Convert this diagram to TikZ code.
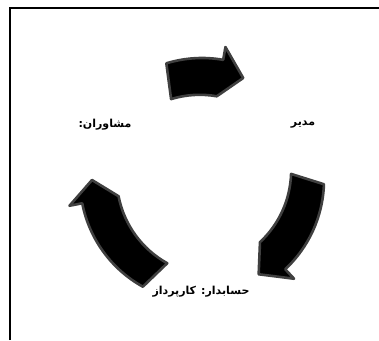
\documentclass[tikz,border=0pt]{standalone}
\usepackage{fontspec}
\newfontfamily\arabicfont[Script=Arabic]{DejaVu Sans}
\TeXXeTstate=1
\tikzset{
  arrowbody/.style={fill=black, draw=black!75, line width=2.6pt, line join=round},
  frameline/.style={draw=black, line width=1.6pt},
  label/.style={font=\arabicfont\bfseries\fontsize{11}{13}\selectfont, inner sep=0pt}
}
\newcommand\cyclearrow[3]{%
  % #1 tail angle, #2 tip angle, #3 head base angle (clockwise)
  \filldraw[arrowbody] (#1:122) arc[start angle=#1, end angle=#3, radius=122]
    -- (#3:135) -- (#2:110) -- (#3:85)
    arc[start angle=#3, end angle=#1, radius=98] -- cycle;
}
\begin{document}
\begin{tikzpicture}[x=1pt,y=1pt]
  \useasboundingbox (0,0) rectangle (379,340);
  \draw[frameline] (10,0) -- (10,332) -- (379,332);
  \begin{scope}[shift={(202,160)}]
    \cyclearrow{107}{68}{80}
    \cyclearrow{-2}{-59}{-47}
    \cyclearrow{-119}{-180}{-169}
  \end{scope}
  \node[label] (consult) at (105,215) {\beginR مشاوران:\endR};
  \node[label] (manager) at (303,215) {\beginR مدیر\endR};
  \node[label] (account) at (201,48) {\beginR حسابدار: کارپرداز\endR};
\end{tikzpicture}
\end{document}
